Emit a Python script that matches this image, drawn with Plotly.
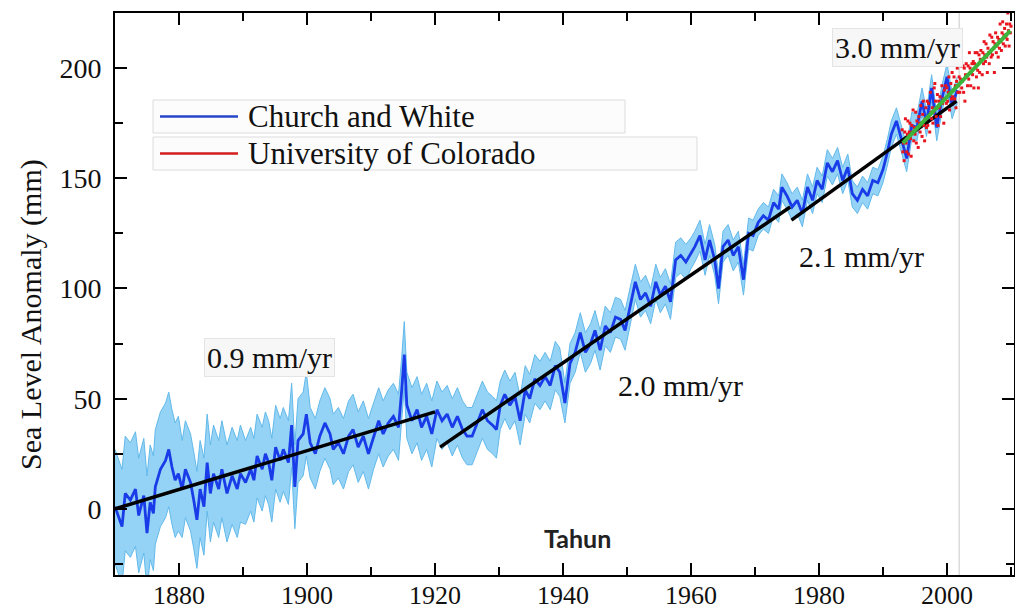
import bisect
import plotly.graph_objects as go

# ---------------- data ----------------
cw_year = [
    1870.0, 1871.1, 1871.6, 1872.4, 1873.2, 1873.7, 1874.5, 1875.0, 1875.5, 1876.0, 1876.3, 1877.1, 1877.9, 1878.4, 1878.9, 1879.4, 1879.9,
    1880.5, 1881.0, 1881.8, 1882.3, 1882.8, 1883.3, 1883.9, 1884.4, 1884.9, 1885.4, 1886.2, 1886.7, 1887.5, 1888.3, 1889.1, 1889.6,
    1890.4, 1891.2, 1891.7, 1892.2, 1893.0, 1893.5, 1894.0, 1894.5, 1895.1, 1895.8, 1896.3, 1897.1, 1897.6, 1898.1, 1898.6, 1899.4, 1899.9,
    1900.5, 1901.3, 1902.0, 1902.8, 1903.6, 1904.1, 1904.9, 1905.7, 1906.5, 1907.2, 1908.0, 1908.8, 1909.6,
    1910.4, 1911.2, 1911.9, 1912.7, 1913.5, 1914.3, 1914.8, 1915.2, 1915.6, 1916.4, 1917.2, 1917.9, 1918.7, 1919.5,
    1920.3, 1921.1, 1921.9, 1922.7, 1923.5, 1924.3, 1925.0, 1925.8, 1926.6, 1927.4, 1928.2, 1929.0, 1929.6,
    1930.2, 1930.9, 1931.7, 1932.5, 1933.3, 1934.1, 1934.8, 1935.6, 1936.4, 1937.2, 1938.0, 1938.8, 1939.5,
    1940.3, 1941.1, 1941.9, 1942.7, 1943.5, 1944.3, 1945.0, 1945.8, 1946.6, 1947.4, 1948.2, 1949.0, 1949.7,
    1950.5, 1951.3, 1952.1, 1952.9, 1953.7, 1954.5, 1955.2, 1956.0, 1956.8, 1957.6, 1958.4, 1959.2,
    1960.0, 1960.6, 1961.4, 1962.2, 1962.9, 1963.7, 1964.3, 1965.0, 1965.8, 1966.6, 1967.4, 1968.2, 1969.0, 1969.7,
    1970.5, 1971.3, 1972.1, 1972.9, 1973.7, 1974.2, 1975.0, 1975.8, 1976.6, 1977.4, 1978.2, 1979.0, 1979.7,
    1980.5, 1981.3, 1982.1, 1982.9, 1983.7, 1984.5, 1985.2, 1986.0, 1986.8, 1987.6, 1988.4, 1989.2,
    1990.0, 1990.7, 1991.3, 1992.1, 1992.9, 1993.7, 1994.5, 1995.3, 1996.1, 1996.8, 1997.6, 1998.4, 1999.2,
    2000.0, 2000.8, 2001.6,
]
cw_mm = [
    1, -8, 7, 4, 9, -3, 6, -11, 3, -2, 10, 18, 22, 27, 19, 13, 16,
    9, 18, 12, 4, -5, 9, 1, 21, 7, 16, 9, 18, 7, 15, 9, 16,
    12, 18, 13, 24, 18, 25, 21, 13, 28, 22, 27, 21, 38, 10, 31, 34, 43,
    30, 25, 33, 39, 34, 27, 30, 25, 33, 36, 28, 33, 25,
    33, 40, 34, 39, 42, 37, 54, 70, 47, 40, 45, 37, 42, 34,
    45, 40, 43, 37, 42, 36, 33, 33, 39, 45, 40, 38, 36,
    47, 52, 47, 51, 40, 54, 50, 59, 56, 60, 56, 65, 62,
    48, 66, 71, 80, 71, 75, 81, 72, 83, 80, 87, 86, 81,
    92, 103, 95, 98, 92, 103, 97, 101, 94, 113, 115, 112,
    116, 119, 124, 113, 122, 113, 100, 119, 122, 115, 119, 104, 125, 124,
    130, 133, 131, 139, 136, 146, 142, 137, 140, 134, 146, 140, 149,
    145, 157, 153, 158, 149, 155, 143, 140, 145, 142, 149, 148,
    154, 162, 170, 176, 168, 159, 174, 173, 185, 175, 191, 173, 186,
    196, 183, 190,
]
# half-width of the light-blue uncertainty band, per decade
cw_unc_decade = [1870, 1880, 1890, 1900, 1910, 1920, 1930, 1940, 1950, 1960, 1970, 1980, 1990, 2000]
cw_unc_mm = [26, 22, 19, 16, 15, 13, 11, 9, 8, 7, 6, 6, 6, 6]

uc_year = [
    1993.0, 1993.1, 1993.2, 1993.3, 1993.4, 1993.5, 1993.6, 1993.7, 1993.8, 1993.9,
    1994.0, 1994.1, 1994.2, 1994.3, 1994.4, 1994.5, 1994.6, 1994.7, 1994.8, 1994.9,
    1995.0, 1995.1, 1995.2, 1995.3, 1995.4, 1995.5, 1995.6, 1995.7, 1995.8, 1995.9,
    1996.0, 1996.1, 1996.2, 1996.3, 1996.4, 1996.5, 1996.6, 1996.7, 1996.8, 1996.9,
    1997.0, 1997.1, 1997.2, 1997.3, 1997.4, 1997.5, 1997.6, 1997.7, 1997.8, 1997.9,
    1998.0, 1998.1, 1998.2, 1998.3, 1998.4, 1998.5, 1998.6, 1998.7, 1998.8, 1998.9,
    1999.0, 1999.1, 1999.2, 1999.3, 1999.4, 1999.5, 1999.6, 1999.7, 1999.8, 1999.9,
    2000.0, 2000.1, 2000.2, 2000.3, 2000.4, 2000.5, 2000.6, 2000.7, 2000.8, 2000.9,
    2001.0, 2001.1, 2001.2, 2001.3, 2001.4, 2001.5, 2001.6, 2001.7, 2001.8, 2001.9,
    2002.0, 2002.1, 2002.2, 2002.3, 2002.4, 2002.5, 2002.6, 2002.7, 2002.8, 2002.9,
    2003.0, 2003.1, 2003.2, 2003.3, 2003.4, 2003.5, 2003.6, 2003.7, 2003.8, 2003.9,
    2004.0, 2004.1, 2004.2, 2004.3, 2004.4, 2004.5, 2004.6, 2004.7, 2004.8, 2004.9,
    2005.0, 2005.1, 2005.2, 2005.3, 2005.4, 2005.5, 2005.6, 2005.7, 2005.8, 2005.9,
    2006.0, 2006.1, 2006.2, 2006.3, 2006.4, 2006.5, 2006.6, 2006.7, 2006.8, 2006.9,
    2007.0, 2007.1, 2007.2, 2007.3, 2007.4, 2007.5, 2007.6, 2007.7, 2007.8, 2007.9,
    2008.0, 2008.1, 2008.2, 2008.3, 2008.4, 2008.5, 2008.6, 2008.7, 2008.8, 2008.9,
    2009.0, 2009.1, 2009.2, 2009.3, 2009.4, 2009.5, 2009.6, 2009.7, 2009.8, 2009.9,
    2010.0,
]
uc_mm = [
    172, 162, 166, 158, 171, 177, 166, 162, 170, 176,
    161, 171, 175, 168, 160, 174, 171, 181, 167, 173,
    170, 180, 166, 176, 173, 164, 178, 175, 171, 183,
    175, 169, 179, 185, 174, 167, 177, 182, 173, 185,
    174, 184, 178, 171, 189, 180, 177, 182, 175, 180,
    191, 193, 185, 178, 182, 188, 174, 185, 182, 187,
    178, 184, 192, 184, 186, 175, 190, 186, 192, 184,
    191, 185, 189, 196, 181, 188, 193, 186, 198, 187,
    190, 196, 186, 192, 182, 194, 200, 189, 192, 196,
    189, 195, 201, 191, 194, 201, 189, 200, 185, 197,
    202, 196, 192, 201, 195, 207, 200, 192, 198, 202,
    197, 203, 191, 202, 207, 200, 196, 207, 199, 191,
    206, 198, 204, 208, 203, 197, 207, 202, 212, 206,
    203, 211, 205, 198, 209, 207, 202, 215, 207, 205,
    214, 206, 212, 209, 198, 211, 216, 207, 210, 214,
    205, 213, 209, 220, 212, 208, 216, 221, 211, 215,
    218, 210, 214, 220, 213, 225, 217, 210, 220, 216,
    219,
]

trend_labels = ["0.9 mm/yr", "2.0 mm/yr", "2.1 mm/yr", "3.0 mm/yr"]
trend_x0 = [1870.0, 1920.8, 1975.7, 1993.1]
trend_x1 = [1920.0, 1975.5, 2001.5, 2009.9]
trend_y0 = [0, 28, 131, 166]
trend_y1 = [44, 137, 185, 217]

x_ticks = [1880, 1900, 1920, 1940, 1960, 1980, 2000]
y_ticks = [0, 50, 100, 150, 200]

assert len(cw_year) == len(cw_mm)
assert len(uc_year) == len(uc_mm)

# ---------------- figure ----------------
SERIF = "Liberation Serif, Times New Roman, serif"
L, R, T, B, W, H = 115, 1, 13, 34, 1015, 609
PW, PH = W - L - R, H - T - B


def px_x(p):
    return (p - L) / PW


def px_y(p):
    return (H - B - p) / PH


hw = [cw_unc_mm[bisect.bisect_right(cw_unc_decade, y) - 1] for y in cw_year]
cw_lo = [m - h for m, h in zip(cw_mm, hw)]
cw_hi = [m + h for m, h in zip(cw_mm, hw)]

fig = go.Figure()
fig.add_trace(go.Scatter(x=cw_year, y=cw_lo, mode="lines",
                         line=dict(color="#62b9ea", width=1), hoverinfo="skip"))
fig.add_trace(go.Scatter(x=cw_year, y=cw_hi, mode="lines", fill="tonexty",
                         fillcolor="#95d3f6", line=dict(color="#62b9ea", width=1),
                         hoverinfo="skip"))
fig.add_trace(go.Scatter(x=cw_year, y=cw_mm, mode="lines", name="Church and White",
                         line=dict(color="#1a3ce8", width=2.8)))

for i in range(3):
    fig.add_trace(go.Scatter(x=[trend_x0[i], trend_x1[i]], y=[trend_y0[i], trend_y1[i]],
                             mode="lines", line=dict(color="black", width=3.5),
                             name=trend_labels[i]))

fig.add_trace(go.Scatter(x=uc_year, y=uc_mm, mode="markers", name="University of Colorado",
                         marker=dict(color="#e8141e", size=3, symbol="square")))
fig.add_trace(go.Scatter(x=[trend_x0[3], trend_x1[3]], y=[trend_y0[3], trend_y1[3]],
                         mode="lines", line=dict(color="#3cb43c", width=4),
                         name=trend_labels[3]))

shapes = [
    dict(type="line", xref="x", yref="paper", x0=2001.9, x1=2001.9, y0=0, y1=1,
         line=dict(color="#c8c8c8", width=1), layer="below"),
    # legend boxes
    dict(type="rect", xref="paper", yref="paper", x0=px_x(153), x1=px_x(625),
         y0=px_y(133), y1=px_y(100), line=dict(color="#dcdcdc", width=1),
         fillcolor="rgba(252,252,252,0.95)"),
    dict(type="rect", xref="paper", yref="paper", x0=px_x(153), x1=px_x(697),
         y0=px_y(170), y1=px_y(137), line=dict(color="#dcdcdc", width=1),
         fillcolor="rgba(252,252,252,0.95)"),
    dict(type="line", xref="paper", yref="paper", x0=px_x(160), x1=px_x(238),
         y0=px_y(116.5), y1=px_y(116.5), line=dict(color="#2646c8", width=2.5)),
    dict(type="line", xref="paper", yref="paper", x0=px_x(160), x1=px_x(238),
         y0=px_y(153.5), y1=px_y(153.5), line=dict(color="#d41e1e", width=2.5)),
]

annotations = [
    dict(text="Church and White", xref="paper", yref="paper", x=px_x(246), y=px_y(116),
         xanchor="left", yanchor="middle", showarrow=False,
         font=dict(family=SERIF, size=31, color="#111")),
    dict(text="University of Colorado", xref="paper", yref="paper", x=px_x(246), y=px_y(153),
         xanchor="left", yanchor="middle", showarrow=False,
         font=dict(family=SERIF, size=31, color="#111")),
    dict(text="Sea Level Anomaly (mm)", xref="paper", yref="paper", x=px_x(31), y=px_y(315),
         xanchor="center", yanchor="middle", textangle=-90, showarrow=False,
         font=dict(family=SERIF, size=30, color="#111")),
    dict(text="<b>Tahun</b>", xref="x", yref="y", x=1942.2, y=-13.2,
         xanchor="center", yanchor="middle", showarrow=False,
         font=dict(family="Lato, Open Sans, sans-serif", size=25, color="#222")),
]
label_pos = [(1894.2, 68.6, True), (1958.3, 55.9, False), (1986.6, 114.5, False), (1992.2, 209.5, True)]
for txt, (lx, ly, boxed) in zip(trend_labels, label_pos):
    a = dict(text=txt, xref="x", yref="y", x=lx, y=ly, xanchor="center", yanchor="middle",
             showarrow=False, font=dict(family=SERIF, size=30, color="#111"))
    if boxed:
        a.update(bgcolor="#f7f7f7", bordercolor="#e4e4e4", borderwidth=1, borderpad=2)
    annotations.append(a)

axis_common = dict(showline=True, linecolor="black", linewidth=2, mirror="allticks",
                   ticks="inside", ticklen=12, tickwidth=2, tickcolor="black",
                   showgrid=False, zeroline=False, automargin=False)

fig.update_layout(
    width=W, height=H,
    margin=dict(l=L, r=R, t=T, b=B),
    paper_bgcolor="white", plot_bgcolor="white",
    showlegend=False,
    shapes=shapes, annotations=annotations,
    xaxis=dict(range=[1870, 1870 + PW / 6.4], tickvals=x_ticks, ticklabelstandoff=-4,
               tickfont=dict(family=SERIF, size=26, color="#111"),
               minor=dict(dtick=10, tick0=1870, ticks="inside", ticklen=8, tickwidth=1.5,
                          tickcolor="black"),
               **axis_common),
    yaxis=dict(range=[-30, 225], tickvals=y_ticks, ticklabelstandoff=6,
               tickfont=dict(family=SERIF, size=28, color="#111"),
               minor=dict(dtick=25, tick0=0, ticks="inside", ticklen=8, tickwidth=1.5,
                          tickcolor="black"),
               **axis_common),
)

fig.write_html("out.html")
